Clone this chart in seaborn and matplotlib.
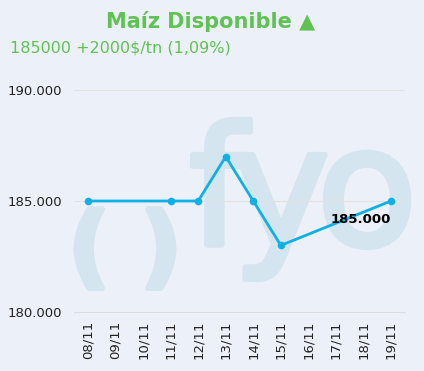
import pandas as pd
import matplotlib.pyplot as plt
import matplotlib.patheffects as pe
import seaborn as sns

# Precio diario del maiz disponible (en $/tn); dias sin dato quedan en None
fechas = ["08/11", "09/11", "10/11", "11/11", "12/11", "13/11",
          "14/11", "15/11", "16/11", "17/11", "18/11", "19/11"]
precios = [185000, None, None, 185000, 185000, 187000,
           185000, 183000, None, None, None, 185000]
y_ticks = [180000, 185000, 190000]
y_labels = ["180.000", "185.000", "190.000"]
titulo = "Maíz Disponible ▲"
subtitulo = "185000 +2000$/tn (1,09%)"
etiqueta_ultimo = "185.000"

bg = "#ecf1f9"
verde = "#5fc252"
azul = "#0fb0e4"
marca = "#d5e5ef"

df = pd.DataFrame({"pos": range(len(fechas)), "fecha": fechas, "precio": precios})
df = df.dropna(subset=["precio"])

sns.set_style("white")
plt.rcParams["font.family"] = ["DejaVu Sans"]

fig = plt.figure(figsize=(4.24, 3.71), dpi=100, facecolor=bg)
ax = fig.add_axes([74.25 / 424, 59 / 371, 330.5 / 424, 222 / 371])
ax.set_facecolor(bg)

# Marca de agua "( ) fyo"
grueso = [pe.withStroke(linewidth=4, foreground=marca)]
wm = dict(transform=fig.transFigure, color=marca, zorder=0, ha="center",
          va="baseline", path_effects=grueso)
ax.text(218 / 424, 1 - 245 / 371, "f", fontsize=119, **wm)
ax.text(281 / 424, 1 - 245 / 371, "y", fontsize=119, **wm)
ax.text(367 / 424, 1 - 245 / 371, "o", fontsize=119, **wm)
wp = dict(transform=fig.transFigure, color=marca, zorder=0, ha="center",
          va="center", fontsize=64, fontweight="bold", path_effects=grueso)
ax.text(89 / 424, 1 - 252 / 371, "(", **wp)
ax.text(161 / 424, 1 - 252 / 371, ")", **wp)

# Lineas de grilla
for v in y_ticks[1:]:
    ax.axhline(v, color="#e2e2e2", lw=0.8, zorder=1)

sns.lineplot(data=df, x="pos", y="precio", ax=ax, color=azul, lw=2.0,
             marker="o", markersize=5.5, markeredgewidth=0, zorder=3)

ult = df.iloc[-1]
ax.annotate(etiqueta_ultimo, (ult["pos"], ult["precio"]), xytext=(-22, -13),
            textcoords="offset points", ha="center", va="center",
            fontsize=9.5, fontweight="bold", color="black", zorder=4)

ax.set_xlim(-0.5, len(fechas) - 0.5)
ax.set_ylim(180000, 190000)
ax.set_xticks(range(len(fechas)))
ax.set_xticklabels(fechas, rotation=90, fontsize=9.5, color="#222222")
ax.set_xticks([i - 0.5 for i in range(len(fechas) + 1)], minor=True)
ax.tick_params(axis="x", which="major", length=0, pad=6)
ax.tick_params(axis="x", which="minor", length=4, color="#dcdcdc", width=0.8, direction="out")
ax.set_yticks(y_ticks)
ax.set_yticklabels(y_labels, fontsize=9.5, color="#222222")
ax.tick_params(axis="y", length=0, pad=9)
ax.set_xlabel("")
ax.set_ylabel("")

for s in ["top", "right", "left"]:
    ax.spines[s].set_visible(False)
ax.spines["bottom"].set_color("#dcdcdc")
ax.spines["bottom"].set_linewidth(0.8)

fig.text(211 / 424, 1 - 21 / 371, titulo, ha="center", va="center",
         fontsize=15, fontweight="bold", color=verde)
fig.text(10 / 424, 1 - 48 / 371, subtitulo, ha="left", va="center",
         fontsize=11.5, color=verde)

fig.savefig("out.png", dpi=100, facecolor=bg)
